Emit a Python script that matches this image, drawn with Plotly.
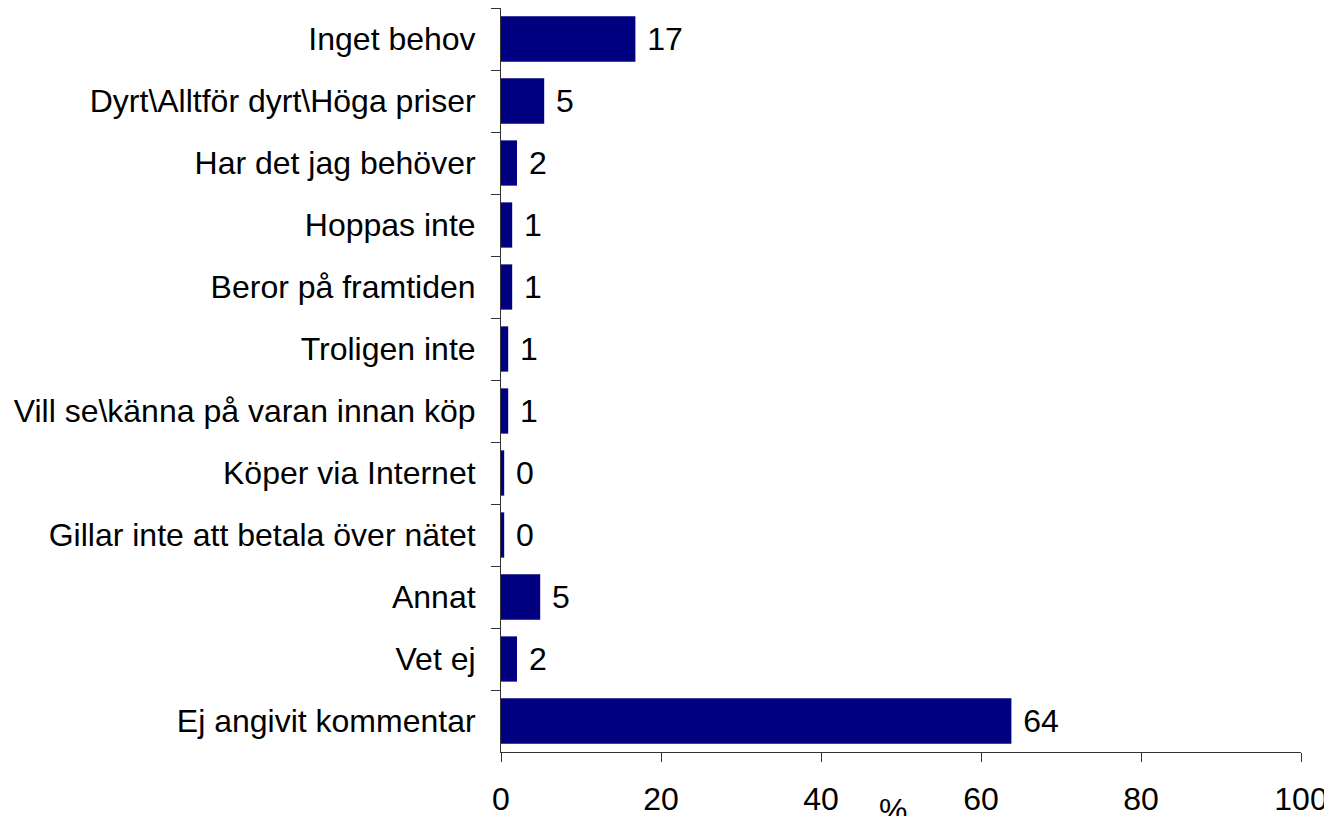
import plotly.graph_objects as go

categories = [
    "Inget behov",
    "Dyrt\\Alltför dyrt\\Höga priser",
    "Har det jag behöver",
    "Hoppas inte",
    "Beror på framtiden",
    "Troligen inte",
    "Vill se\\känna på varan innan köp",
    "Köper via Internet",
    "Gillar inte att betala över nätet",
    "Annat",
    "Vet ej",
    "Ej angivit kommentar",
]
values = [16.8, 5.4, 2.0, 1.4, 1.4, 0.9, 0.9, 0.4, 0.4, 4.9, 2.0, 63.8]
value_labels = ["17", "5", "2", "1", "1", "1", "1", "0", "0", "5", "2", "64"]
x_ticks = [0, 20, 40, 60, 80, 100]

FONT = "Liberation Sans, Arial, sans-serif"
FS = 32

fig = go.Figure()
fig.add_trace(go.Bar(
    x=values,
    y=categories,
    orientation="h",
    marker=dict(color="#000080", line=dict(width=0)),
    text=value_labels,
    texttemplate=" %{text}",
    textposition="outside",
    textfont=dict(family=FONT, size=FS, color="black"),
    cliponaxis=False,
    width=0.73,
))

fig.update_layout(
    width=1332,
    height=816,
    margin=dict(l=493, r=39, t=0, b=72, pad=0, autoexpand=False),
    paper_bgcolor="white",
    plot_bgcolor="white",
    showlegend=False,
    font=dict(family=FONT, size=FS, color="black"),
    xaxis=dict(
        range=[0, 100],
        tickvals=x_ticks,
        ticktext=[str(v) for v in x_ticks],
        showgrid=False,
        zeroline=False,
        showline=True,
        linecolor="#333333",
        linewidth=1,
        ticks="outside",
        ticklen=9,
        tickcolor="#333333",
        ticklabelstandoff=10,
        automargin=False,
        tickfont=dict(family=FONT, size=FS, color="black"),
    ),
    yaxis=dict(
        categoryorder="array",
        categoryarray=categories,
        autorange="reversed",
        showgrid=False,
        zeroline=False,
        showline=True,
        linecolor="#333333",
        linewidth=1,
        ticks="outside",
        ticklen=9,
        tickcolor="#333333",
        tickson="boundaries",
        ticklabelstandoff=18,
        automargin=False,
        tickfont=dict(family=FONT, size=FS, color="black"),
    ),
    annotations=[dict(
        text="%",
        xref="paper", yref="paper",
        x=(885 - 493) / 800, y=-0.078,
        xanchor="center", yanchor="middle",
        showarrow=False,
        font=dict(family=FONT, size=FS, color="black"),
    )],
)

fig.write_html("out.html")
